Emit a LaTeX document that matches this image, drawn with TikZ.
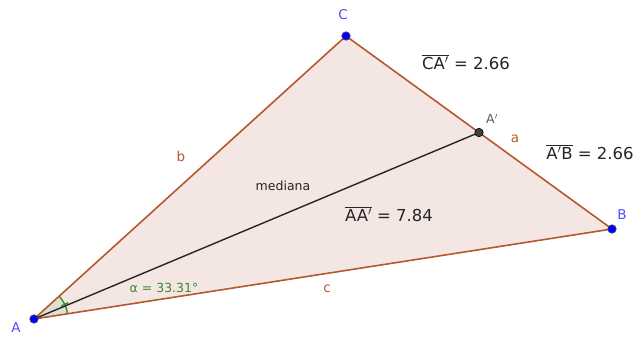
\documentclass[tikz,border=0pt]{standalone}
\usepackage{fontspec}
\setmainfont{DejaVu Sans}
\setsansfont{DejaVu Sans}
\begin{document}
\begin{tikzpicture}[x=1pt,y=-1pt,
  edge/.style={draw=edgec,line width=1.6pt},
  ptblue/.style={circle,fill=ptb,draw=black!70,line width=0.6pt,inner sep=0pt,minimum size=8.5pt},
  ptgrey/.style={circle,fill=black!75,draw=black,line width=0.6pt,inner sep=0pt,minimum size=8.5pt},
  lblue/.style={text=lblc,font=\fontsize{13.5}{16}\selectfont},
  lbrown/.style={text=edgec,font=\fontsize{13.5}{16}\selectfont},
  meas/.style={text=black!85,font=\fontsize{16.5}{19}\selectfont}]
\definecolor{edgec}{HTML}{B5582E}
\definecolor{fillc}{HTML}{F4E7E3}
\definecolor{ptb}{HTML}{0000FF}
\definecolor{lblc}{HTML}{4D4DFF}
\definecolor{angc}{HTML}{3C8A2E}
\definecolor{sectc}{HTML}{DEE0D2}
\useasboundingbox (0,0) rectangle (637,338);
\coordinate (A) at (34,319);
\coordinate (B) at (612,229);
\coordinate (C) at (346,36);
\coordinate (M) at (479,132.5);
\fill[fillc] (A) -- (B) -- (C) -- cycle;
% angle sector
\fill[sectc] (A) -- +(-8.85:34) arc[start angle=-8.85,end angle=-42.2,radius=34] -- cycle;
\draw[angc,line width=1.4pt] (A) ++(-8.85:34) arc[start angle=-8.85,end angle=-42.2,radius=34];
\draw[angc,line width=1.4pt] (A) ++(-25.5:30) -- ++(-25.5:8);
\draw[edge] (A) -- (B) -- (C) -- cycle;
\draw[black!85,line width=1.4pt] (A) -- (M);
\node[ptblue] (pA) at (A) {};
\node[ptblue] (pB) at (B) {};
\node[ptblue] (pC) at (C) {};
\node[ptgrey] (pM) at (M) {};
\node[lblue] (lA) at (16,328) {A};
\node[lblue] (lB) at (622,215) {B};
\node[lblue] (lC) at (343,15) {C};
\node[text=black!65,font=\fontsize{12.5}{15}\selectfont] (lM) at (492,119) {A$'$};
\node[lbrown] (la) at (515,139) {a};
\node[lbrown] (lb) at (181,156) {b};
\node[lbrown] (lc) at (327,289) {c};
\node[text=black!85,font=\fontsize{12.5}{15}\selectfont] (med) at (283,186) {mediana};
\node[meas] (m1) at (466,62) {$\overline{\hbox{CA$'$}}$ = 2.66};
\node[meas] (m2) at (590,152) {$\overline{\hbox{A$'$B}}$ = 2.66};
\node[meas] (m3) at (389,214) {$\overline{\hbox{AA$'$}}$ = 7.84};
\node[text=angc,font=\fontsize{12.5}{15}\selectfont] (alpha) at (164,288) {α = 33.31°};
\end{tikzpicture}
\end{document}
